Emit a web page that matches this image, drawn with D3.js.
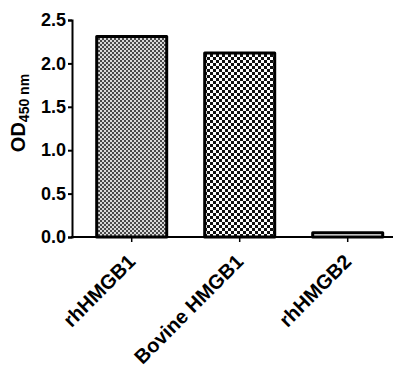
<!DOCTYPE html>
<html><head><meta charset="utf-8">
<script src="https://cdn.jsdelivr.net/npm/d3@7"></script>
<style>body{margin:0;background:#fff}svg{display:block}text{font-family:"Liberation Sans",Arial,sans-serif;font-weight:bold;fill:#000}</style>
</head><body><svg id="c" width="398" height="372"></svg>
<script>
const categories = ["rhHMGB1", "Bovine HMGB1", "rhHMGB2"];
const values = [2.31, 2.12, 0.05];
const yTicks = [0.0, 0.5, 1.0, 1.5, 2.0, 2.5];
const fills = ["url(#p1)", "url(#p2)", "#fff"];

const svg = d3.select("#c");
const defs = svg.append("defs");
const p1 = defs.append("pattern").attr("id","p1").attr("patternUnits","userSpaceOnUse").attr("width",4).attr("height",4);
p1.append("rect").attr("width",4).attr("height",4).attr("fill","#d9d9d9");
p1.append("rect").attr("width",2).attr("height",2).attr("fill","#4a4a4a");
p1.append("rect").attr("x",2).attr("y",2).attr("width",2).attr("height",2).attr("fill","#4a4a4a");
const p2 = defs.append("pattern").attr("id","p2").attr("patternUnits","userSpaceOnUse").attr("width",6).attr("height",6);
p2.append("rect").attr("width",6).attr("height",6).attr("fill","#fff");
p2.append("rect").attr("width",3).attr("height",3).attr("fill","#111");
p2.append("rect").attr("x",3).attr("y",3).attr("width",3).attr("height",3).attr("fill","#111");

const y = d3.scaleLinear().domain([0,2.5]).range([237,20]);
const x = d3.scaleBand().domain(categories).range([77.7,401.7]).paddingInner(0.324).paddingOuter(0.162);

svg.selectAll("rect.bar").data(categories).enter().append("rect").attr("class","bar")
  .attr("x", d => x(d)+1.5)
  .attr("width", x.bandwidth()-3)
  .attr("y", (d,i) => y(values[i]))
  .attr("height", (d,i) => y(0)-y(values[i]))
  .attr("fill", (d,i) => fills[i])
  .attr("stroke","#000").attr("stroke-width",3).attr("stroke-linejoin","round");

// y axis
const ya = svg.append("g").attr("transform","translate(72,0)")
  .call(d3.axisLeft(y).tickValues(yTicks).tickFormat(d3.format(".1f")).tickSize(4).tickPadding(2));
ya.select(".domain").attr("stroke","#000").attr("stroke-width",2);
ya.selectAll(".tick line").attr("stroke","#000").attr("stroke-width",2);
ya.selectAll(".tick text").style("font-size","18px").style("font-weight","bold").attr("fill","#000");

// x axis
const xa = svg.append("g").attr("transform","translate(0,237)")
  .call(d3.axisBottom(x).tickSize(5).tickSizeOuter(0));
xa.select(".domain").attr("d","M71,0H393").attr("stroke","#000").attr("stroke-width",2);
xa.selectAll(".tick line").attr("stroke","#000").attr("stroke-width",1.5);
xa.selectAll(".tick text").style("font-size","20px").style("font-weight","bold").attr("fill","#000")
  .attr("text-anchor","end").attr("dy",null).attr("y",0)
  .attr("transform","translate(5,26) rotate(-45)");

// y label
const yl = svg.append("text").attr("transform","translate(25,113) rotate(-90)").attr("text-anchor","middle");
yl.append("tspan").text("OD").style("font-size","20px");
yl.append("tspan").text("450 nm").style("font-size","14px").attr("dy",4);
</script></body></html>
